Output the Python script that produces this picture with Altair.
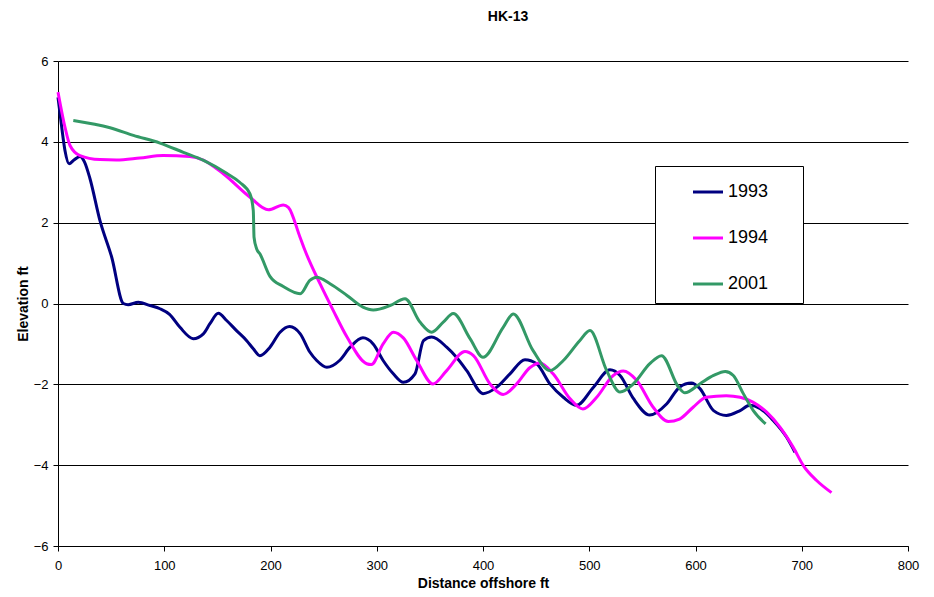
import altair as alt
import pandas as pd

# Series values (distance offshore ft, elevation ft)
x_1993 = [0, 3.5, 6.6, 10.4, 15, 20.7, 25, 30, 39.5, 50.5, 61.5, 66, 75.6, 86.6, 96, 105, 114.8,
          127.3, 136.8, 143, 150.9, 158.7, 168, 177.6, 183.8, 190, 199.5, 209, 218, 228, 237,
          243.5, 253, 265, 275, 287, 296.6, 306, 315.6, 325, 336, 344, 351.7, 365.8, 375, 384.7,
          400, 413, 425.4, 439.5, 450.5, 463, 475.6, 488, 504, 519.5, 529, 541.5, 557, 573, 585,
          596, 604, 617, 629, 642, 651, 661, 673, 685.8, 693.6]
y_1993 = [5.1, 4.36, 3.78, 3.46, 3.55, 3.64, 3.5, 3.1, 2.05, 1.15, 0.0, -0.03, 0.03, -0.05, -0.13,
          -0.27, -0.59, -0.87, -0.75, -0.5, -0.24, -0.42, -0.67, -0.92, -1.12, -1.29, -1.08, -0.71,
          -0.57, -0.75, -1.2, -1.41, -1.58, -1.41, -1.08, -0.85, -1.0, -1.41, -1.74, -1.95, -1.74,
          -0.92, -0.83, -1.08, -1.33, -1.66, -2.23, -2.07, -1.74, -1.39, -1.49, -1.99, -2.32, -2.52,
          -2.07, -1.64, -1.78, -2.35, -2.76, -2.48, -2.07, -1.97, -2.1, -2.65, -2.77, -2.65, -2.52,
          -2.6, -2.89, -3.31, -3.68]

x_1994 = [0, 6.6, 11.3, 20.7, 39.5, 55, 77, 99, 124, 136.8, 155.6, 180.7, 198, 212, 216.8, 227.8,
          232.5, 246.6, 259, 272, 290.5, 295, 306, 315.6, 325, 337.6, 353, 365.8, 383, 391, 406.6,
          419, 431.7, 444, 453.6, 466, 482, 494, 507, 522.6, 532, 544.6, 560, 574.4, 585, 598, 610,
          629, 642, 654, 667, 679.5, 692, 701.5, 714, 728]
y_1994 = [5.23, 4.36, 3.91, 3.66, 3.56, 3.55, 3.6, 3.66, 3.64, 3.55, 3.21, 2.63, 2.32, 2.44, 2.38,
          1.64, 1.31, 0.49, -0.17, -0.83, -1.49, -1.51, -1.0, -0.71, -0.85, -1.41, -1.99, -1.66,
          -1.19, -1.29, -1.99, -2.25, -1.99, -1.59, -1.47, -1.74, -2.36, -2.61, -2.32, -1.78, -1.67,
          -1.9, -2.56, -2.92, -2.86, -2.56, -2.32, -2.28, -2.32, -2.44, -2.69, -3.06, -3.56, -4.01,
          -4.38, -4.68]

x_2001 = [14.4, 49, 71, 96, 118, 137, 158.7, 171, 180.7, 183.8, 184.5, 187, 190, 199.5, 212, 228,
          237, 243.5, 256, 272, 287, 296.7, 312.5, 326.6, 340.7, 351.7, 362.6, 372, 387.8, 400,
          419, 428.5, 447, 463, 475.6, 491, 500.7, 516.4, 529, 541.5, 557, 568, 584, 590, 604, 617,
          628, 635.6, 645, 654.4, 666]
y_2001 = [4.53, 4.35, 4.16, 3.97, 3.74, 3.54, 3.22, 3.0, 2.71, 2.3, 1.64, 1.35, 1.23, 0.67, 0.42,
          0.24, 0.57, 0.65, 0.49, 0.2, -0.09, -0.16, -0.05, 0.12, -0.46, -0.71, -0.46, -0.25, -0.87,
          -1.33, -0.59, -0.26, -1.16, -1.66, -1.41, -0.92, -0.67, -1.66, -2.19, -1.99, -1.49, -1.29,
          -2.07, -2.21, -1.99, -1.78, -1.68, -1.78, -2.23, -2.65, -2.98]

years = ["1993", "1994", "2001"]
colors = ["#000080", "#FF00FF", "#339966"]
x_ticks = [0, 100, 200, 300, 400, 500, 600, 700, 800]
y_ticks = [-6, -4, -2, 0, 2, 4, 6]

rows = []
for yr, xs, ys in zip(years, [x_1993, x_1994, x_2001], [y_1993, y_1994, y_2001]):
    for xv, yv in zip(xs, ys):
        rows.append({"year": yr, "dist": xv, "elev": yv})
df = pd.DataFrame(rows)

FONT = "Liberation Sans"
# non-breaking spaces closed by a zero-width space so that the legend box keeps its width
PAD = "\u00a0" * 5 + "\u200b"

chart = alt.Chart(df).mark_line(interpolate="monotone", strokeWidth=3).encode(
    x=alt.X("dist:Q", title="Distance offshore ft",
            scale=alt.Scale(domain=[0, 800], nice=False, zero=False),
            axis=alt.Axis(values=x_ticks, grid=False, tickSize=5, labelPadding=8,
                          labelFlush=False, titleY=41, titleBaseline="alphabetic")),
    y=alt.Y("elev:Q", title="Elevation ft",
            scale=alt.Scale(domain=[-6, 6], nice=False, zero=False),
            axis=alt.Axis(values=y_ticks, grid=True, tickSize=5, labelPadding=5,
                          labelFlush=False, titleX=-31, titleBaseline="alphabetic")),
    color=alt.Color("year:N", title=None,
                    scale=alt.Scale(domain=years, range=colors),
                    legend=alt.Legend(orient="none", legendX=597, legendY=105,
                                      symbolType="stroke", symbolSize=900,
                                      symbolStrokeWidth=3, symbolOffset=27,
                                      labelOffset=3.5, padding=9.5, rowPadding=20,
                                      labelFontSize=18, labelFont=FONT, labelColor="#000000",
                                      labelExpr="datum.label + '" + PAD + "'",
                                      strokeColor="#000000", fillColor="#FFFFFF",
                                      labelBaseline="middle")),
).properties(
    width=850, height=485,
    background="#FFFFFF",
    title=alt.TitleParams("HK-13", fontSize=14, font=FONT, fontWeight="bold",
                          anchor="middle", frame="group", dx=25, offset=20,
                          baseline="alphabetic", color="#000000"),
    autosize=alt.AutoSizeParams(type="none"),
    padding={"left": 50, "top": 53, "right": 18, "bottom": 43},
).configure_view(strokeWidth=0).configure_axis(
    domainColor="#000000", domainWidth=1, tickColor="#000000", tickWidth=1,
    gridColor="#000000", gridWidth=1, gridOpacity=1,
    labelFont=FONT, labelFontSize=13, labelColor="#000000",
    titleFont=FONT, titleFontSize=14, titleFontWeight="bold", titleColor="#000000",
)

chart.save("out.html", embed_options={"renderer": "svg", "actions": False})
